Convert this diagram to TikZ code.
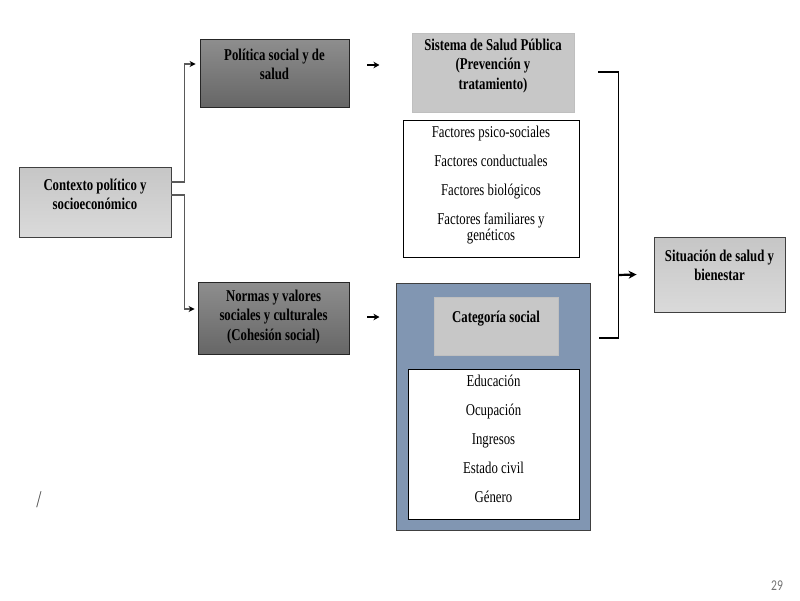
\documentclass[tikz,border=0pt]{standalone}
\usepackage{fontspec}
\setmainfont{Liberation Serif}[FakeStretch=0.775]
\newfontfamily\numfont{Carlito}[FakeStretch=0.775]
\usetikzlibrary{calc, arrows.meta}
\definecolor{darktop}{HTML}{8E8E8E}
\definecolor{darkbot}{HTML}{666666}
\definecolor{lighttop}{HTML}{C6C6C6}
\definecolor{lightbot}{HTML}{DADADA}
\definecolor{slate}{HTML}{8196B2}
\newcommand{\cell}[4]{\parbox[c][#2pt][t]{#1pt}{\centering\rule{0pt}{#3pt}#4}}

\begin{document}
\begin{tikzpicture}[x=1pt, y=-1pt, % pixel units, y runs down
	every node/.style={inner sep=0pt, font=\fontsize{16.5}{19.5}\selectfont},
	darkbox/.style={draw=black!85, line width=0.9pt, top color=darktop, bottom color=darkbot, font=\fontsize{16.5}{19.5}\selectfont\bfseries},
	lightbox/.style={draw=black!75, line width=0.9pt, top color=lighttop, bottom color=lightbot, font=\fontsize{16.5}{19.5}\selectfont\bfseries},
	greybox/.style={draw=black!25, line width=0.6pt, fill=black!22, font=\fontsize{16.5}{19.5}\selectfont\bfseries},
	listbox/.style={draw=black, line width=0.9pt, fill=white},
	feed/.style={draw=black!65, line width=1.4pt, -{Stealth[length=6pt,width=6pt,color=black]}},
	push/.style={draw=black, line width=1.4pt, -{Stealth[length=6pt,width=6.5pt]}},
	bigpush/.style={draw=black, line width=2.2pt, -{Stealth[length=8pt,width=8pt]}},
	brace/.style={draw=black, line width=1.4pt}]

	\useasboundingbox (0,0) rectangle (800,600);

	\node[lightbox] (ctx) at (95,202) {\cell{152}{70}{23}{Contexto político y\\socioeconómico}};
	\node[darkbox] (pol) at (274.5,73) {\cell{149}{68}{21}{Política social y de\\salud}};
	\node[darkbox] (nor) at (273.5,318) {\cell{151}{72}{19}{Normas y valores\\sociales y culturales\\(Cohesión social)}};
	\node[greybox] (sis) at (493,72.5) {\cell{162}{79}{17}{Sistema de Salud Pública\\(Prevención y\\tratamiento)}};
	\node[listbox] (fac) at (491,188.5) {\cell{176}{137}{17}{Factores psico-sociales\\[9.5pt]Factores conductuales\\[9.5pt]Factores biológicos\\[9.5pt]Factores familiares y\\[-3pt]genéticos}};
	\node[draw=black!75, line width=1pt, fill=slate, minimum width=194, minimum height=247] (soc) at (493,406.5) {};
	\node[greybox] (cat) at (496,326) {\cell{124}{58}{25}{Categoría social}};
	\node[listbox] (var) at (493.5,444) {\cell{171}{150}{17}{Educación\\[9.5pt]Ocupación\\[9.5pt]Ingresos\\[9.5pt]Estado civil\\[9.5pt]Género}};
	\node[lightbox] (sit) at (719.5,274.5) {\cell{131}{75}{24}{Situación de salud y\\bienestar}};

	\draw[feed] ($(ctx.east)+(0,-20)$) -- ++(13,0) |- ($(pol.west)+(-4,-9)$);
	\draw[feed] ($(ctx.east)+(0,-7)$) -- ++(13,0) |- ($(nor.west)+(-3,-9)$);
	\draw[push] ($(pol.east)+(18,-8)$) -- ++(12,0);
	\draw[push] ($(nor.east)+(18,-1)$) -- ++(12,0);

	\coordinate (sysend) at ($(sis.east)+(24,-0.5)$);
	\coordinate (socend) at ($(soc.east)+(8,-68.5)$);
	\coordinate (join) at ($(sysend)+(20,203)$);
	\draw[brace] (sysend) -- ++(20,0) |- (socend);
	\draw[bigpush] (join) -- ($(sit.west)+(-17,0)$);

	\node[text=black!70, font=\fontsize{24}{24}\selectfont] (slash) at (39,500) {/};
	\node[text=black!55, font=\numfont\fontsize{15}{15}\selectfont] (pageno) at (777,586) {29};

\end{tikzpicture}
\end{document}
